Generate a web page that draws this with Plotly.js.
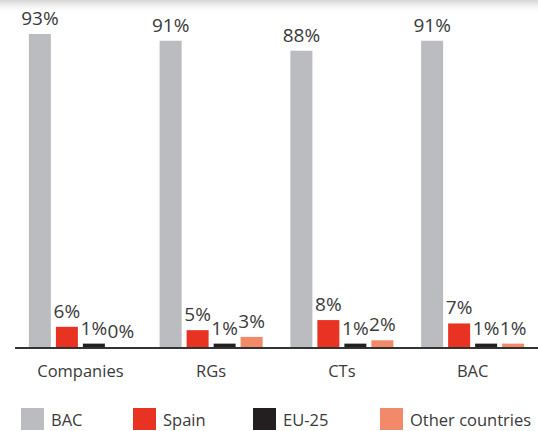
<!DOCTYPE html>
<html>
<head>
<meta charset="utf-8">
<script src="https://cdn.plot.ly/plotly-3.0.1.min.js"></script>
<style>html,body{margin:0;padding:0;background:#fff;}#chart{width:538px;height:431px;}</style>
</head>
<body>
<div id="chart"></div>
<script>
const categories = ["Companies", "RGs", "CTs", "BAC"];
const seriesNames = ["BAC", "Spain", "EU-25", "Other countries"];
const bacValues = [93, 91, 88, 91];
const spainValues = [6, 5, 8, 7];
const eu25Values = [1, 1, 1, 1];
const otherValues = [0, 3, 2, 1];
const seriesColors = ["#bbbcc0", "#e83323", "#231f20", "#f28a69"];

const allValues = [bacValues, spainValues, eu25Values, otherValues];
const FONT = "Open Sans, Noto Sans, sans-serif";
const W = 538, H = 431, ML = 15, MB = 84;
const plotW = W - ML, plotH = H - MB;

const traces = allValues.map((vals, i) => ({
  type: "bar",
  name: seriesNames[i],
  x: categories,
  y: vals,
  marker: {color: seriesColors[i]},
  text: vals.map(v => v + "%"),
  texttemplate: "%{text}",
  textposition: "outside",
  textfont: {family: FONT, size: 19, color: "#3a3a3a"},
  constraintext: "none",
  cliponaxis: false,
  hoverinfo: "none"
}));

// manual legend (large squares)
const legendX = [21, 133, 253, 380];
const shapes = [];
const annotations = [];
seriesNames.forEach((n, i) => {
  shapes.push({type: "rect", xref: "paper", yref: "paper",
    x0: (legendX[i] - ML) / plotW, x1: (legendX[i] + 23 - ML) / plotW,
    y0: (plotH - 430) / plotH, y1: (plotH - 408) / plotH,
    fillcolor: seriesColors[i], line: {width: 0}});
  annotations.push({xref: "paper", yref: "paper",
    x: (legendX[i] + 28 - ML) / plotW, y: (plotH - 419) / plotH,
    xanchor: "left", yanchor: "middle", showarrow: false,
    text: n, font: {family: FONT, size: 16.5, color: "#3a3a3a"}});
});
// top shadow band
for (let k = 0; k < 13; k++) {
  shapes.push({type: "rect", xref: "paper", yref: "paper",
    x0: -ML / plotW, x1: 1, y0: (plotH - (k + 1)) / plotH, y1: (plotH - k) / plotH,
    fillcolor: "rgba(0,0,0," + (0.16 * Math.pow(1 - k / 13, 2)).toFixed(3) + ")",
    line: {width: 0}, layer: "below"});
}

const layout = {
  width: W, height: H,
  margin: {l: ML, r: 0, t: 0, b: MB, pad: 0},
  paper_bgcolor: "#ffffff", plot_bgcolor: "#ffffff",
  barmode: "group",
  bargap: 0.174,
  bargroupgap: 0.185,
  showlegend: false,
  font: {family: FONT, color: "#3a3a3a"},
  xaxis: {
    showline: true, linecolor: "#333333", linewidth: 1.5,
    ticks: "", showgrid: false, zeroline: false,
    tickfont: {family: FONT, size: 16.5, color: "#3a3a3a"},
    ticklabelstandoff: 9
  },
  yaxis: {
    range: [0, 103.1], visible: false, showgrid: false, zeroline: false
  },
  shapes: shapes,
  annotations: annotations
};

Plotly.newPlot("chart", traces, layout, {staticPlot: true, displayModeBar: false});
</script>
</body>
</html>
